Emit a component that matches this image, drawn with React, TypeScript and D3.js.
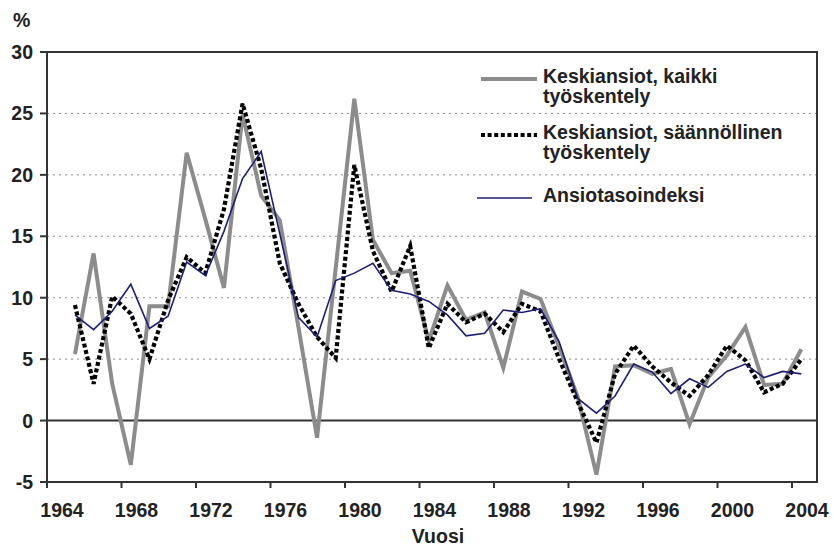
import React from "react";
import * as d3 from "d3";

// years and annual change, %
const years = d3.range(1965, 2005);
const kaikki = [
  5.4, 13.6, 3.0, -3.6, 9.3, 9.3, 21.8, 16.4, 10.8, 24.9,
  18.3, 16.3, 7.6, -1.4, 12.4, 26.2, 14.7, 12.0, 12.2, 6.5,
  11.0, 8.2, 8.8, 4.3, 10.5, 9.9, 6.0, 1.9, -4.4, 4.4,
  4.5, 3.8, 4.2, -0.3, 3.5, 5.3, 7.6, 2.9, 3.0, 5.8,
];
const saannollinen = [
  9.4, 3.0, 10.1, 8.7, 5.0, 9.8, 13.3, 12.0, 17.2, 25.8,
  20.5, 12.8, 9.5, 6.8, 5.1, 20.8, 13.8, 10.5, 14.2, 5.9,
  9.5, 8.0, 8.7, 7.2, 9.5, 8.9, 5.0, 1.5, -1.8, 3.8,
  6.1, 4.4, 3.1, 2.0, 3.7, 6.1, 4.9, 2.3, 3.0, 5.0,
];
const indeksi = [
  8.6, 7.4, 8.9, 11.1, 7.5, 8.5, 12.9, 11.8, 15.4, 19.7,
  21.9, 15.2, 8.4, 6.8, 11.4, 12.0, 12.8, 10.6, 10.3, 9.7,
  8.6, 6.9, 7.1, 9.0, 8.8, 9.1, 6.4, 1.8, 0.6, 2.0,
  4.6, 3.95, 2.2, 3.4, 2.7, 4.0, 4.6, 3.5, 4.0, 3.8,
];
const yTicks = [-5, 0, 5, 10, 15, 20, 25, 30];
const xTicks = d3.range(1964, 2005, 4);

const series = [
  { name: ["Keskiansiot, kaikki", "työskentely"], values: kaikki, color: "#8c8c8c", width: 4, dash: null },
  { name: ["Keskiansiot, säännöllinen", "työskentely"], values: saannollinen, color: "#000", width: 4.2, dash: "4,2.6" },
  { name: ["Ansiotasoindeksi"], values: indeksi, color: "#1f1f78", width: 1.6, dash: null },
];

export default function App() {
  const width = 834, height = 549;
  const left = 47, right = 817, top = 52, bottom = 482;

  const x = d3.scaleLinear().domain([1964, 2004]).range([left, 792]);
  const y = d3.scaleLinear().domain([-5, 30]).range([bottom, top]);

  const line = d3.line<number>()
    .x((_, i) => x(years[i] + 0.5))
    .y((d) => y(d));

  const font = "Arial, 'Liberation Sans', sans-serif";
  const fs = 19.5;
  const legendY = [79, 135, 198];

  return (
    <svg width={width} height={height} style={{ position: "absolute", left: 0, top: 0 }} fontFamily={font}>
      <rect width={width} height={height} fill="#fff" />
      {/* gridlines */}
      {yTicks.filter((t) => t !== 0 && t !== 30 && t !== -5).map((t) => (
        <line key={t} x1={left} x2={right} y1={y(t)} y2={y(t)} stroke="#8a8a8a" strokeWidth={1} strokeDasharray="2,4" />
      ))}
      {/* frame */}
      <rect x={left} y={top} width={right - left} height={bottom - top} fill="none" stroke="#333" strokeWidth={2} />
      <line x1={left} x2={right} y1={y(0)} y2={y(0)} stroke="#333" strokeWidth={2} />
      {/* y axis */}
      {yTicks.map((t) => (
        <g key={t}>
          <line x1={left - 7} x2={left} y1={y(t)} y2={y(t)} stroke="#333" strokeWidth={2} />
          <text x={33} y={y(t) + 7} textAnchor="end" fontSize={fs} fontWeight="bold" fill="#222">{t}</text>
        </g>
      ))}
      <text x={13} y={27} fontSize={fs} fontWeight="bold" fill="#222">%</text>
      {/* x axis */}
      {xTicks.map((t) => (
        <g key={t}>
          <line x1={x(t)} x2={x(t)} y1={bottom} y2={bottom + 6} stroke="#333" strokeWidth={2} />
          <text x={x(t) + 15} y={517} textAnchor="middle" fontSize={fs} fontWeight="bold" fill="#222">{t}</text>
        </g>
      ))}
      <text x={438} y={543} textAnchor="middle" fontSize={fs} fontWeight="bold" fill="#222">Vuosi</text>
      {/* series */}
      {series.map((s) => (
        <path key={s.name[0]} d={line(s.values) ?? ""} fill="none" stroke={s.color} strokeWidth={s.width}
          strokeDasharray={s.dash ?? undefined} strokeLinejoin="miter" />
      ))}
      {/* legend */}
      {series.map((s, i) => (
        <g key={s.name[0]}>
          <line x1={i === 2 ? 477 : 481} x2={i === 2 ? 532 : 537} y1={legendY[i]} y2={legendY[i]}
            stroke={s.color} strokeWidth={s.width} strokeDasharray={s.dash ?? undefined} />
          {s.name.map((n, j) => (
            <text key={n} x={543} y={legendY[i] + 4 + j * 20} fontSize={fs} fontWeight="bold" fill="#222">{n}</text>
          ))}
        </g>
      ))}
    </svg>
  );
}
